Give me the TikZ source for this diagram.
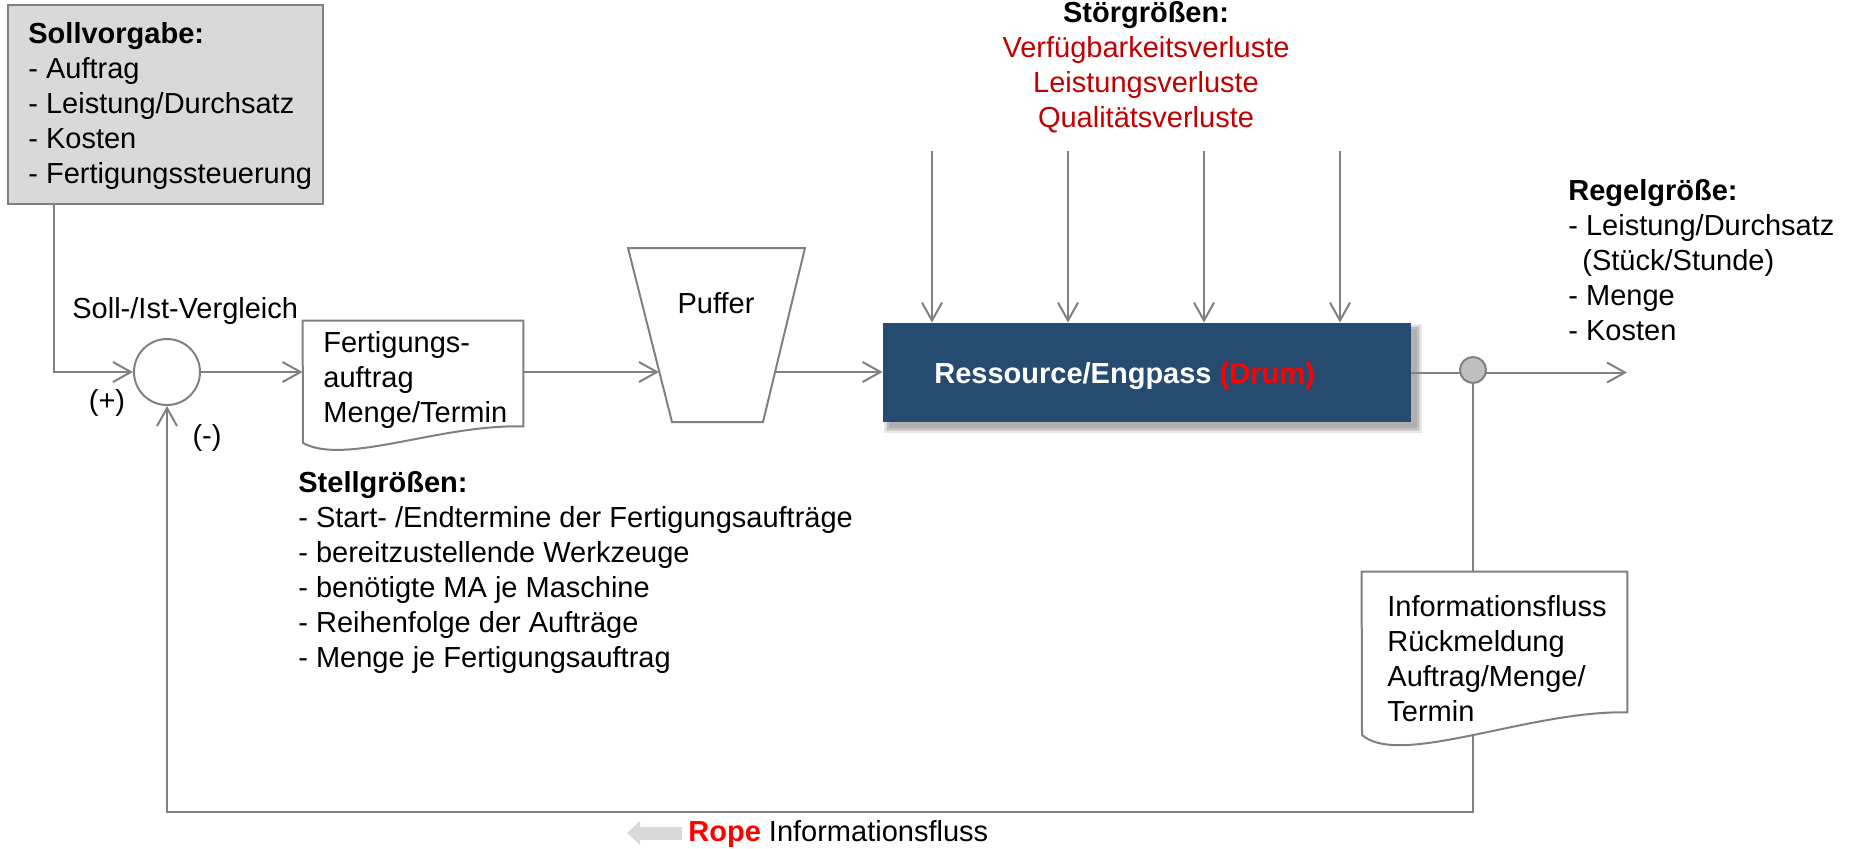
\documentclass[tikz,border=0pt]{standalone}
\usepackage{fontspec}
\setmainfont{Liberation Sans}
\usetikzlibrary{arrows.meta,calc}
\definecolor{lgray}{RGB}{128,128,128}
\definecolor{svfill}{RGB}{217,217,217}
\definecolor{boxblue}{RGB}{38,75,112}
\definecolor{dred}{RGB}{192,0,0}
\definecolor{bred}{RGB}{255,0,0}
\definecolor{dotfill}{RGB}{191,191,191}
\definecolor{ropegray}{RGB}{217,217,217}
\pgfdeclarelayer{bg}
\pgfsetlayers{bg,main}
\begin{document}
\begin{tikzpicture}[x=0.5pt,y=-0.5pt,
  every node/.style={font=\fontsize{14.5}{17.5}\selectfont},
  txt/.style={inner sep=0pt, align=left, anchor=north west},
  one/.style={inner sep=0pt, anchor=base west},
  arr/.style={draw=lgray, line width=1pt, -{Straight Barb[length=9pt,width=10pt]}},
  ln/.style={draw=lgray, line width=1pt},
  shp/.style={draw=lgray, line width=1pt, fill=white},
]
\useasboundingbox (0,0) rectangle (1849,848);

% boxes and shapes
\node[draw=lgray, fill=svfill, line width=1pt, minimum width=157.5pt, minimum height=99.5pt, inner sep=0pt] (sv) at (165.5,104.5) {};
\node[circle, draw=lgray, line width=1pt, minimum size=33pt, inner sep=0pt, fill=white] (circ) at (167,372) {};
\node[minimum width=110pt, minimum height=52.5pt, inner sep=0pt] (doc1) at (413,373.5) {};
\draw[shp] (doc1.north west) -- (doc1.north east) -- (doc1.south east) .. controls (440,424) and (345,466) .. (303,443) -- cycle;
\draw[shp] (628,248) -- (805,248) -- (763,422) -- (672,422) -- cycle;
\coordinate (pin) at (659,372);
\coordinate (pout) at (775,372);
\node[fill=boxblue, minimum width=264pt, minimum height=49.5pt, inner sep=0pt] (box) at (1147,372.5) {};
\node[circle, draw=lgray, fill=dotfill, line width=1pt, minimum size=13pt, inner sep=0pt] (dot) at (1473,370) {};
\node[minimum width=132.5pt, minimum height=70pt, inner sep=0pt] (doc2) at (1494.5,642) {};
\draw[shp] (doc2.north west) -- (doc2.north east) -- (doc2.south east) .. controls (1530,710) and (1400,768) .. (1362,735) -- cycle;
\coordinate (outR) at (1627,372.5);
\coordinate (ropeR) at (1473,812);
\foreach \x [count=\i] in {932,1068,1204,1340} { \coordinate (s\i) at (\x,151); }

% soft shadow and connectors
\begin{pgfonlayer}{bg}
\foreach \d in {0,0.7,1.4,2.1} {
  \fill[black, opacity=0.09] ([xshift={3-\d}, yshift={-3-\d}]box.south west) rectangle ([xshift={3+\d}, yshift={-3+\d}]box.north east);
}
\draw[arr] ([xshift=23.5pt]sv.south west) |- (circ.west);
\draw[arr] (circ.east) -- (circ.east -| doc1.west);
\draw[arr] (doc1.east |- pin) -- (pin);
\draw[arr] (pout) -- (pout -| box.west);
\draw[arr] (box.east) -- (outR);
\draw[ln] (dot) -- (dot |- doc2.north);
\draw[arr] (dot |- doc2.south) -- (ropeR) -| (circ.south);
\foreach \i in {1,...,4} { \draw[arr] (s\i) -- (s\i |- box.north); }
\end{pgfonlayer}

% rope symbol
\coordinate (rA) at (682,833);
\coordinate (rB) at (627,833);
\draw[draw=ropegray, line width=6.5pt, -{Triangle[length=6.5pt,width=11.5pt]}] (rA) -- (rB);

% texts
\node[txt] (svt) at (28,18.5) {\strut\textbf{Sollvorgabe:}\\- Auftrag\\- Leistung/Durchsatz\\- Kosten\\- Fertigungssteuerung};
\node[one] (siv) at (72,318) {Soll-/Ist-Vergleich};
\node (plus) at (107,403) {(+)};
\node (minus) at (207,438) {(-)};
\node[txt] (d1t) at (323,327.5) {\strut Fertigungs-\\auftrag\\Menge/Termin};
\node[inner sep=0pt, anchor=base] (puf) at (716,313) {Puffer};
\node[one, text=white] (boxt) at (934,383) {\bfseries Ressource/Engpass \textcolor{bred}{(Drum)}};
\node[inner sep=0pt, align=center, anchor=north] (stoer) at (1146,-2.5) {\strut\textbf{Störgrößen:}\\\textcolor{dred}{Verfügbarkeitsverluste}\\\textcolor{dred}{Leistungsverluste}\\\textcolor{dred}{Qualitätsverluste}};
\node[txt] (rg) at (1568,175.5) {\strut\textbf{Regelgröße:}\\- Leistung/Durchsatz\\\hspace*{7pt}(Stück/Stunde)\\- Menge\\- Kosten};
\node[txt] (d2t) at (1387,591.5) {\strut Informationsfluss\\Rückmeldung\\Auftrag/Menge/\\Termin};
\node[txt] (stg) at (298,467.5) {\strut\textbf{Stellgrößen:}\\- Start- /Endtermine der Fertigungsaufträge\\- bereitzustellende Werkzeuge\\- benötigte MA je Maschine\\- Reihenfolge der Aufträge\\- Menge je Fertigungsauftrag};
\node[one] (rope) at (688,841) {\textcolor{bred}{\textbf{Rope}} Informationsfluss};
\end{tikzpicture}
\end{document}
